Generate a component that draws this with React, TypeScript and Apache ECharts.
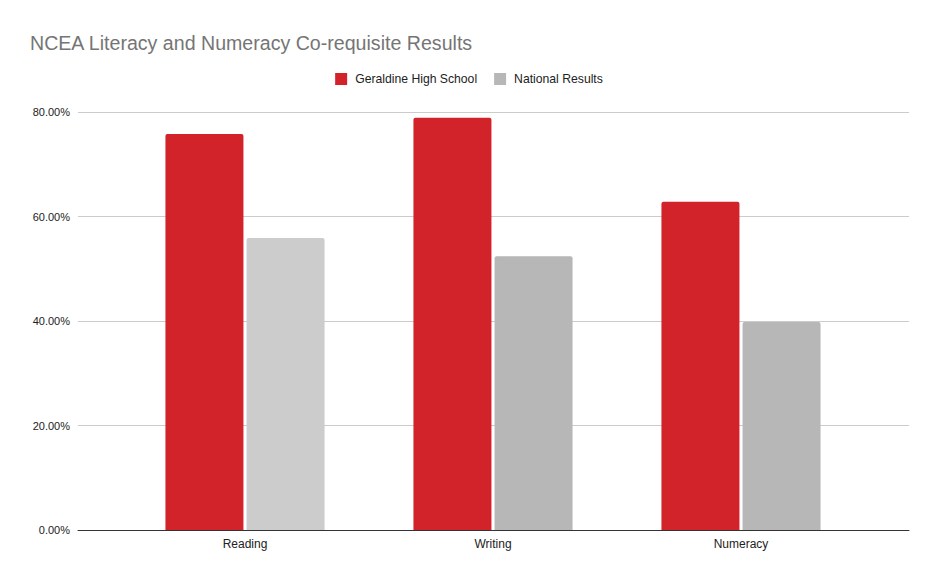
import React, { useEffect, useRef } from "react";
import * as echarts from "echarts";

const categories = ["Reading", "Writing", "Numeracy"];
const geraldine = [75.8, 78.9, 62.8];
const national = [55.9, 52.4, 39.8];
const nationalColors = ["#cccccc", "#b7b7b7", "#b7b7b7"];
const seriesNames = ["Geraldine High School", "National Results"];
const title = "NCEA Literacy and Numeracy Co-requisite Results";

export default function App() {
  const ref = useRef<HTMLDivElement>(null);
  useEffect(() => {
    if (!ref.current) return;
    document.body.style.margin = "0";
    const chart = echarts.init(ref.current, null, { renderer: "svg" });
    const font = "'Liberation Sans', Arial, sans-serif";
    chart.setOption({
      animation: false,
      title: {
        text: title,
        left: 25,
        top: 28,
        textStyle: { fontFamily: font, fontSize: 19.6, fontWeight: "normal", color: "#757575" },
      },
      legend: {
        top: 68,
        left: "center",
        icon: "rect",
        itemWidth: 12,
        itemHeight: 12,
        itemGap: 17,
        textStyle: { fontFamily: font, fontSize: 12.2, color: "#222", padding: [0, 0, 0, 3] },
        data: seriesNames,
      },
      grid: [
        { left: 78, right: 29, top: 112, bottom: 50 },
        { left: 121, right: 73, top: 112, bottom: 50 },
      ],
      xAxis: [
        {
          gridIndex: 0,
          type: "value",
          min: 0,
          max: 1,
          axisLine: { show: true, lineStyle: { color: "#333", width: 1 } },
          axisTick: { show: false },
          axisLabel: { show: false },
          splitLine: { show: false },
        },
        {
          gridIndex: 1,
          type: "category",
          data: categories,
          axisLine: { show: false },
          axisTick: { show: false },
          axisLabel: { fontFamily: font, fontSize: 12, color: "#222", margin: 8 },
        },
      ],
      yAxis: [
        {
          gridIndex: 0,
          type: "value",
          min: 0,
          max: 80,
          interval: 20,
          axisLine: { show: false },
          axisTick: { show: false },
          axisLabel: {
            fontFamily: font,
            fontSize: 11,
            color: "#222",
            margin: 8,
            formatter: (v: number) => `${v.toFixed(2)}%`,
          },
          splitLine: { lineStyle: { color: "#cccccc", width: 1 } },
        },
        {
          gridIndex: 1,
          type: "value",
          min: 0,
          max: 80,
          interval: 20,
          show: false,
          splitLine: { show: false },
        },
      ],
      series: [
        {
          name: seriesNames[0],
          type: "bar",
          xAxisIndex: 1,
          yAxisIndex: 1,
          data: geraldine,
          barWidth: 78,
          barGap: "4%",
          itemStyle: { color: "#d2232a", borderRadius: [2, 2, 0, 0] },
        },
        {
          name: seriesNames[1],
          type: "bar",
          xAxisIndex: 1,
          yAxisIndex: 1,
          data: national.map((v, i) => ({ value: v, itemStyle: { color: nationalColors[i] } })),
          barWidth: 78,
          barGap: "4%",
          itemStyle: { color: "#b7b7b7", borderRadius: [2, 2, 0, 0] },
        },
      ],
    });
    return () => chart.dispose();
  }, []);
  return <div ref={ref} style={{ width: 938, height: 580 }} />;
}
